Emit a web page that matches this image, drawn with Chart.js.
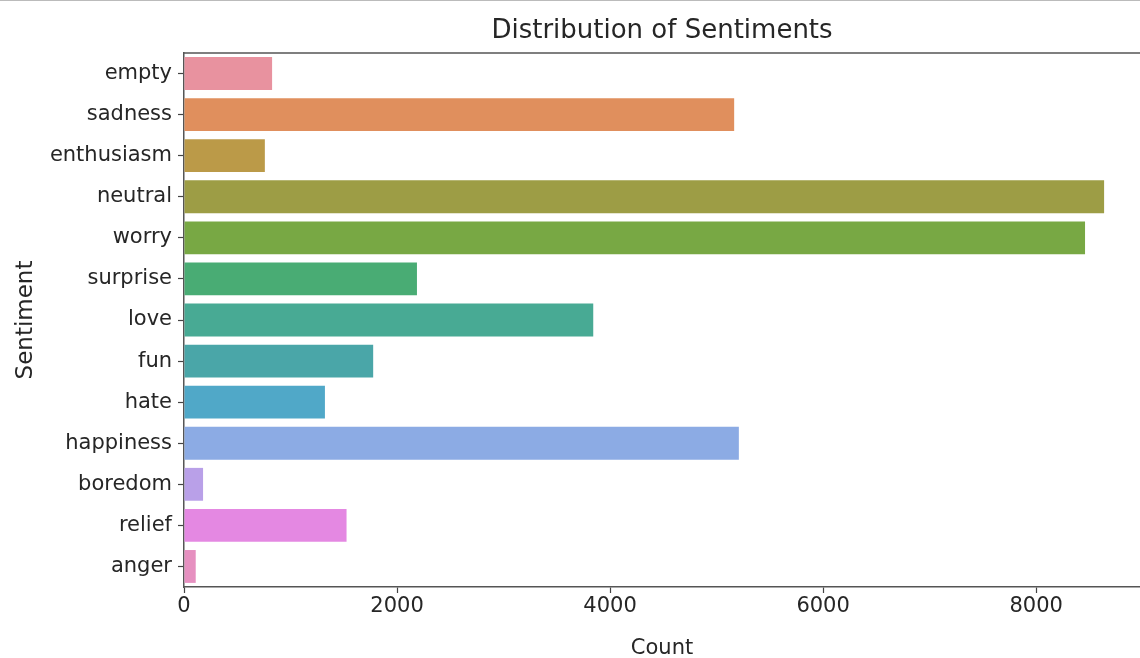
<!DOCTYPE html>
<html lang="en">
<head>
  <meta charset="UTF-8" />
  <title>Distribution of Sentiments</title>
  <style>
    body {
      margin: 0;
      background: #fff;
    }
    #chartContainer {
      width: 1140px;
      height: 658px;
      border-top: 1px solid #bbb;
      box-sizing: border-box;
    }
  </style>
  <script src="https://cdn.jsdelivr.net/npm/chart.js"></script>
</head>
<body>
  <div id="chartContainer">
    <canvas id="sentChart"></canvas>
  </div>
  <script>
    const sentiments = ["empty", "sadness", "enthusiasm", "neutral", "worry", "surprise", "love",
                        "fun", "hate", "happiness", "boredom", "relief", "anger"];
    const counts = [827, 5165, 759, 8638, 8459, 2187, 3842, 1776, 1323, 5209, 179, 1526, 110];
    const barColors = ["#e8929f", "#e08f5d", "#bb9a48", "#9d9d45", "#78a844", "#49ac74", "#48aa94",
                       "#4aa6a8", "#50a8c8", "#8cabe4", "#b9a0e8", "#e488e2", "#e690c0"];
    const xTicks = [0, 2000, 4000, 6000, 8000];

    const font = "'DejaVu Sans', sans-serif";
    const ink = '#262626';

    // top spine + title centred over the (partly cropped) axes, like matplotlib
    const frame = {
      id: 'frame',
      afterDraw(chart) {
        const { ctx, chartArea } = chart;
        ctx.save();
        ctx.strokeStyle = '#555';
        ctx.lineWidth = 1.5;
        ctx.beginPath();
        ctx.moveTo(chartArea.left, chartArea.top);
        ctx.lineTo(chartArea.right, chartArea.top);
        ctx.stroke();

        ctx.fillStyle = ink;
        ctx.font = "26px " + font;
        ctx.textAlign = 'center';
        ctx.textBaseline = 'middle';
        ctx.fillText('Distribution of Sentiments', chartArea.left + 478, 30);
        ctx.restore();
      }
    };

    const ctx = document.getElementById('sentChart').getContext('2d');
    new Chart(ctx, {
      type: 'bar',
      data: {
        labels: sentiments,
        datasets: [{
          data: counts,
          backgroundColor: barColors,
          borderWidth: 0,
          barPercentage: 0.8,
          categoryPercentage: 1.0
        }]
      },
      plugins: [frame],
      options: {
        indexAxis: 'y',
        responsive: true,
        maintainAspectRatio: false,
        animation: false,
        layout: { padding: { top: 52, left: 0, right: 0, bottom: 0 } },
        plugins: {
          legend: { display: false },
          tooltip: { enabled: false },
          title: { display: false }
        },
        scales: {
          x: {
            min: 0,
            max: 8975,
            afterBuildTicks: (scale) => { scale.ticks = xTicks.map(v => ({ value: v })); },
            afterFit: (scale) => { scale.height = 71; },
            grid: {
              display: true,
              drawOnChartArea: false,
              drawTicks: true,
              tickLength: 6,
              tickColor: '#444',
              tickWidth: 1.2
            },
            border: { display: true, color: '#555', width: 1.5 },
            ticks: {
              color: ink,
              font: { family: font, size: 21 },
              padding: 1,
              maxRotation: 0,
              callback: (v) => String(v)
            },
            title: {
              display: true,
              text: 'Count',
              color: ink,
              font: { family: font, size: 21 },
              padding: { top: 0, bottom: -3 }
            }
          },
          y: {
            offset: true,
            afterFit: (scale) => { scale.width = 184; },
            grid: {
              display: true,
              drawOnChartArea: false,
              drawTicks: true,
              tickLength: 6,
              tickColor: '#444',
              tickWidth: 1.2,
              offset: false
            },
            border: { display: true, color: '#555', width: 1.5 },
            ticks: {
              color: ink,
              font: { family: font, size: 21 },
              padding: 6
            },
            title: {
              display: true,
              text: 'Sentiment',
              color: ink,
              font: { family: font, size: 23 },
              padding: { top: 12, bottom: 0 }
            }
          }
        }
      }
    });
  </script>
</body>
</html>
